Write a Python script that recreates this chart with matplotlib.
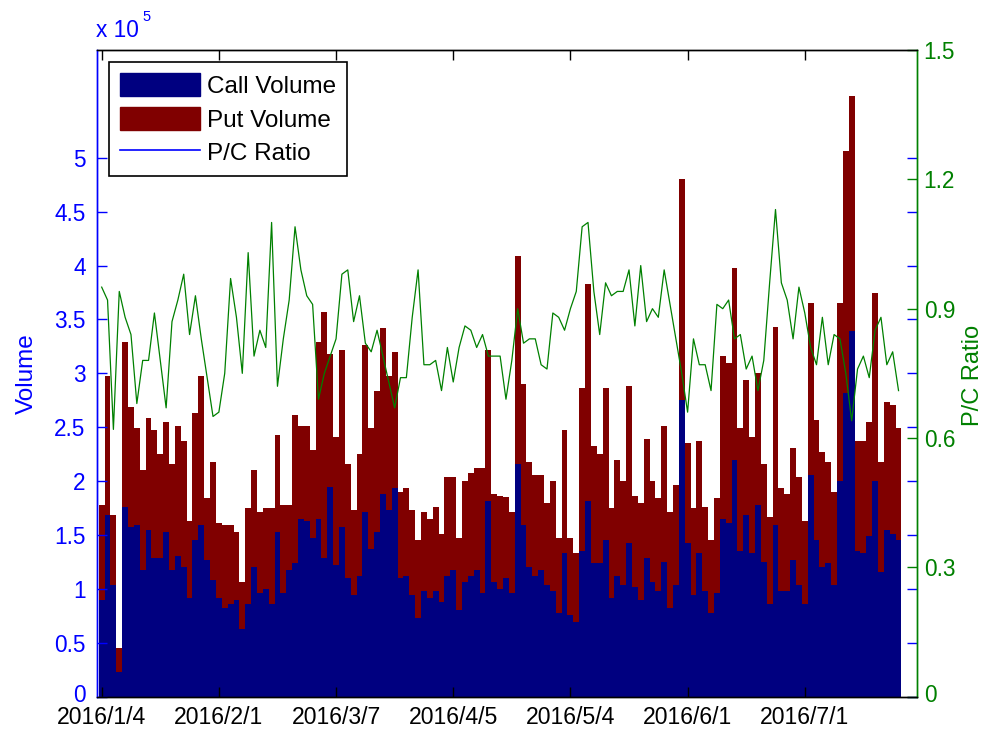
import matplotlib
matplotlib.use("Agg")
import matplotlib.pyplot as plt
from matplotlib.patches import Patch
from matplotlib.lines import Line2D
from matplotlib.transforms import ScaledTranslation
import numpy as np

plt.rcParams['font.family'] = ['Liberation Sans', 'DejaVu Sans']

# Daily option volumes (units of 10^5 contracts), trading days from 2016/1/4
call_volume = [0.90, 1.69, 1.04, 0.23, 1.76, 1.57, 1.59, 1.18, 1.55, 1.29,
               1.29, 1.53, 1.18, 1.31, 1.20, 0.92, 1.45, 1.59, 1.27, 1.08,
               0.92, 0.82, 0.86, 0.90, 0.63, 0.86, 1.20, 0.96, 1.00, 0.86,
               1.53, 0.96, 1.18, 1.24, 1.65, 1.63, 1.47, 1.65, 1.29, 1.95,
               1.22, 1.57, 1.10, 0.94, 1.12, 1.71, 1.37, 1.53, 1.88, 1.73,
               1.94, 1.10, 1.12, 0.94, 0.73, 0.98, 0.92, 0.98, 0.88, 1.12,
               1.18, 0.80, 1.06, 1.12, 1.18, 0.96, 1.82, 1.06, 1.00, 1.10,
               0.96, 2.16, 1.59, 1.20, 1.12, 1.18, 1.04, 0.98, 0.78, 1.33,
               0.76, 0.69, 1.35, 1.82, 1.24, 1.24, 1.45, 0.92, 1.12, 1.04,
               1.43, 1.02, 0.90, 1.29, 1.06, 0.98, 1.25, 0.82, 1.04, 2.75,
               1.43, 0.94, 1.33, 0.98, 0.78, 0.96, 1.65, 1.61, 2.20, 1.35,
               1.69, 1.33, 1.78, 1.25, 0.86, 1.59, 0.98, 0.98, 1.27, 1.04,
               0.86, 2.06, 1.45, 1.20, 1.24, 1.04, 2.00, 2.82, 3.39, 1.35,
               1.33, 1.49, 2.00, 1.16, 1.55, 1.51, 1.45]

put_volume = [0.88, 1.29, 0.65, 0.22, 1.53, 1.12, 0.90, 0.92, 1.04, 1.18,
              0.96, 1.02, 0.98, 1.20, 1.17, 0.71, 1.18, 1.39, 0.57, 1.10,
              0.69, 0.77, 0.73, 0.63, 0.43, 0.89, 0.90, 0.75, 0.75, 0.89,
              0.90, 0.82, 0.60, 1.37, 0.86, 0.88, 0.82, 1.64, 2.28, 1.23,
              1.19, 1.65, 1.06, 0.79, 1.13, 1.55, 1.12, 1.31, 1.54, 1.25,
              1.26, 0.80, 0.82, 0.79, 0.72, 0.73, 0.73, 0.78, 0.63, 0.92,
              0.86, 0.67, 0.94, 0.96, 0.94, 1.16, 1.40, 0.82, 0.86, 0.75,
              0.75, 1.93, 1.31, 0.98, 0.94, 0.88, 0.76, 1.02, 0.69, 1.14,
              0.71, 0.64, 1.51, 2.01, 1.09, 1.01, 1.41, 0.83, 1.08, 0.96,
              1.45, 0.84, 0.90, 1.10, 0.94, 0.86, 1.26, 0.89, 0.92, 2.05,
              0.92, 0.81, 1.04, 0.78, 0.67, 0.88, 1.51, 1.49, 1.78, 1.14,
              1.25, 1.08, 1.22, 0.91, 0.81, 1.84, 0.96, 0.90, 1.04, 1.00,
              0.77, 1.59, 1.12, 1.07, 0.94, 0.86, 1.65, 2.24, 2.18, 1.02,
              1.04, 1.06, 1.75, 1.02, 1.18, 1.20, 1.04]

pc_ratio = [0.95, 0.92, 0.62, 0.94, 0.88, 0.84, 0.68, 0.78, 0.78, 0.89,
            0.78, 0.67, 0.87, 0.92, 0.98, 0.84, 0.93, 0.83, 0.74, 0.65,
            0.66, 0.75, 0.97, 0.88, 0.75, 1.03, 0.79, 0.85, 0.81, 1.10,
            0.72, 0.83, 0.92, 1.09, 0.99, 0.93, 0.91, 0.69, 0.75, 0.79,
            0.83, 0.98, 0.99, 0.87, 0.93, 0.82, 0.80, 0.85, 0.79, 0.73,
            0.67, 0.74, 0.74, 0.88, 0.99, 0.77, 0.77, 0.78, 0.71, 0.81,
            0.73, 0.81, 0.86, 0.85, 0.81, 0.84, 0.79, 0.79, 0.79, 0.69,
            0.78, 0.90, 0.82, 0.83, 0.83, 0.77, 0.76, 0.89, 0.88, 0.85,
            0.90, 0.94, 1.09, 1.10, 0.94, 0.84, 0.96, 0.93, 0.94, 0.94,
            0.99, 0.86, 1.00, 0.87, 0.90, 0.88, 0.99, 0.91, 0.83, 0.75,
            0.66, 0.83, 0.77, 0.77, 0.71, 0.91, 0.90, 0.92, 0.83, 0.84,
            0.76, 0.79, 0.71, 0.78, 0.96, 1.13, 0.96, 0.92, 0.83, 0.95,
            0.89, 0.81, 0.77, 0.88, 0.77, 0.84, 0.83, 0.75, 0.64, 0.76,
            0.79, 0.74, 0.85, 0.88, 0.77, 0.80, 0.71]

date_tick_index = [0, 20, 40, 60, 80, 100, 120]
date_tick_labels = ['2016/1/4', '2016/2/1', '2016/3/7', '2016/4/5',
                    '2016/5/4', '2016/6/1', '2016/7/1']
volume_ticks = [0, 0.5, 1, 1.5, 2, 2.5, 3, 3.5, 4, 4.5, 5]
volume_tick_labels = ['0', '0.5', '1', '1.5', '2', '2.5', '3', '3.5', '4', '4.5', '5']
ratio_ticks = [0, 0.3, 0.6, 0.9, 1.2, 1.5]
ratio_tick_labels = ['0', '0.3', '0.6', '0.9', '1.2', '1.5']

NAVY = (0, 0, 0.5)
MAROON = (0.5, 0, 0)
GREEN = (0, 0.5, 0)
BLUE = (0, 0, 1)

W, H = 997, 731
fig = plt.figure(figsize=(W / 100, H / 100), dpi=100)
x0, x1, y0, y1 = 96.7, 916.7, 50.0, 696.7
ax = fig.add_axes([x0 / W, 1 - y1 / H, (x1 - x0) / W, (y1 - y0) / H])

x = np.arange(len(call_volume))
ax.bar(x, call_volume, width=1.0, color=NAVY, linewidth=0, antialiased=False)
ax.bar(x, put_volume, width=1.0, bottom=call_volume, color=MAROON,
       linewidth=0, antialiased=False)
ax.set_xlim(-0.85, 139.1)
ax.set_ylim(0, 6)

ax2 = ax.twinx()
ax2.plot(x, pc_ratio, color=GREEN, linewidth=0.9)
ax2.set_ylim(0, 1.5)
ax2.set_xlim(-0.85, 139.1)

fs = 16.3
ax.set_xticks(date_tick_index)
ax.set_xticklabels(date_tick_labels)
ax.set_yticks(volume_ticks)
ax.set_yticklabels(volume_tick_labels)
ax2.set_yticks(ratio_ticks)
ax2.set_yticklabels(ratio_tick_labels)

ax.tick_params(axis='x', direction='in', top=True, bottom=True, length=7,
               width=1, colors='black', labelsize=fs + 0.3, pad=7)
ax.tick_params(axis='y', direction='in', left=True, right=True, length=7,
               width=1, colors=BLUE, labelsize=fs, pad=8)
ax2.tick_params(axis='y', direction='in', left=False, right=True, length=7,
                width=1, colors=GREEN, labelsize=fs, pad=5)

# the "0" labels sit slightly above the baseline, as in the original
for lab in (ax.get_yticklabels()[0], ax2.get_yticklabels()[0]):
    lab.set_transform(lab.get_transform() + ScaledTranslation(0, 4 / 100, fig.dpi_scale_trans))

for a in (ax, ax2):
    a.spines['left'].set_color(BLUE)
    a.spines['right'].set_color(GREEN)
    a.spines['top'].set_color('black')
    a.spines['bottom'].set_color('black')
    for s in a.spines.values():
        s.set_linewidth(1.0)

ax.set_ylabel('Volume', color=BLUE, fontsize=17.5)
ax.yaxis.set_label_coords(-0.072, 0.50)
ax2.set_ylabel('P/C Ratio', color=GREEN, fontsize=17)
ax2.yaxis.set_label_coords(1.055, 0.497)

fig.text(96 / W, 1 - 37 / H, 'x 10', color=BLUE, fontsize=fs, va='baseline', ha='left')
fig.text(142 / W, 1 - 21 / H, '5', color=BLUE, fontsize=fs * 0.65, va='baseline', ha='left')

handles = [Patch(facecolor=NAVY, edgecolor=NAVY),
           Patch(facecolor=MAROON, edgecolor=MAROON),
           Line2D([0], [0], color=BLUE, linewidth=1.2)]
leg = ax2.legend(handles, ['Call Volume', 'Put Volume', 'P/C Ratio'],
                 loc='upper left', bbox_to_anchor=(12.3 / (x1 - x0), 1 - 12 / (y1 - y0)),
                 borderaxespad=0, fancybox=False, framealpha=1, edgecolor='black',
                 fontsize=17.5, handlelength=3.3, handleheight=1.1, handletextpad=0.3,
                 labelspacing=0.36, borderpad=0.45)
leg.get_frame().set_linewidth(1.2)

fig.savefig('out.png', dpi=100)
